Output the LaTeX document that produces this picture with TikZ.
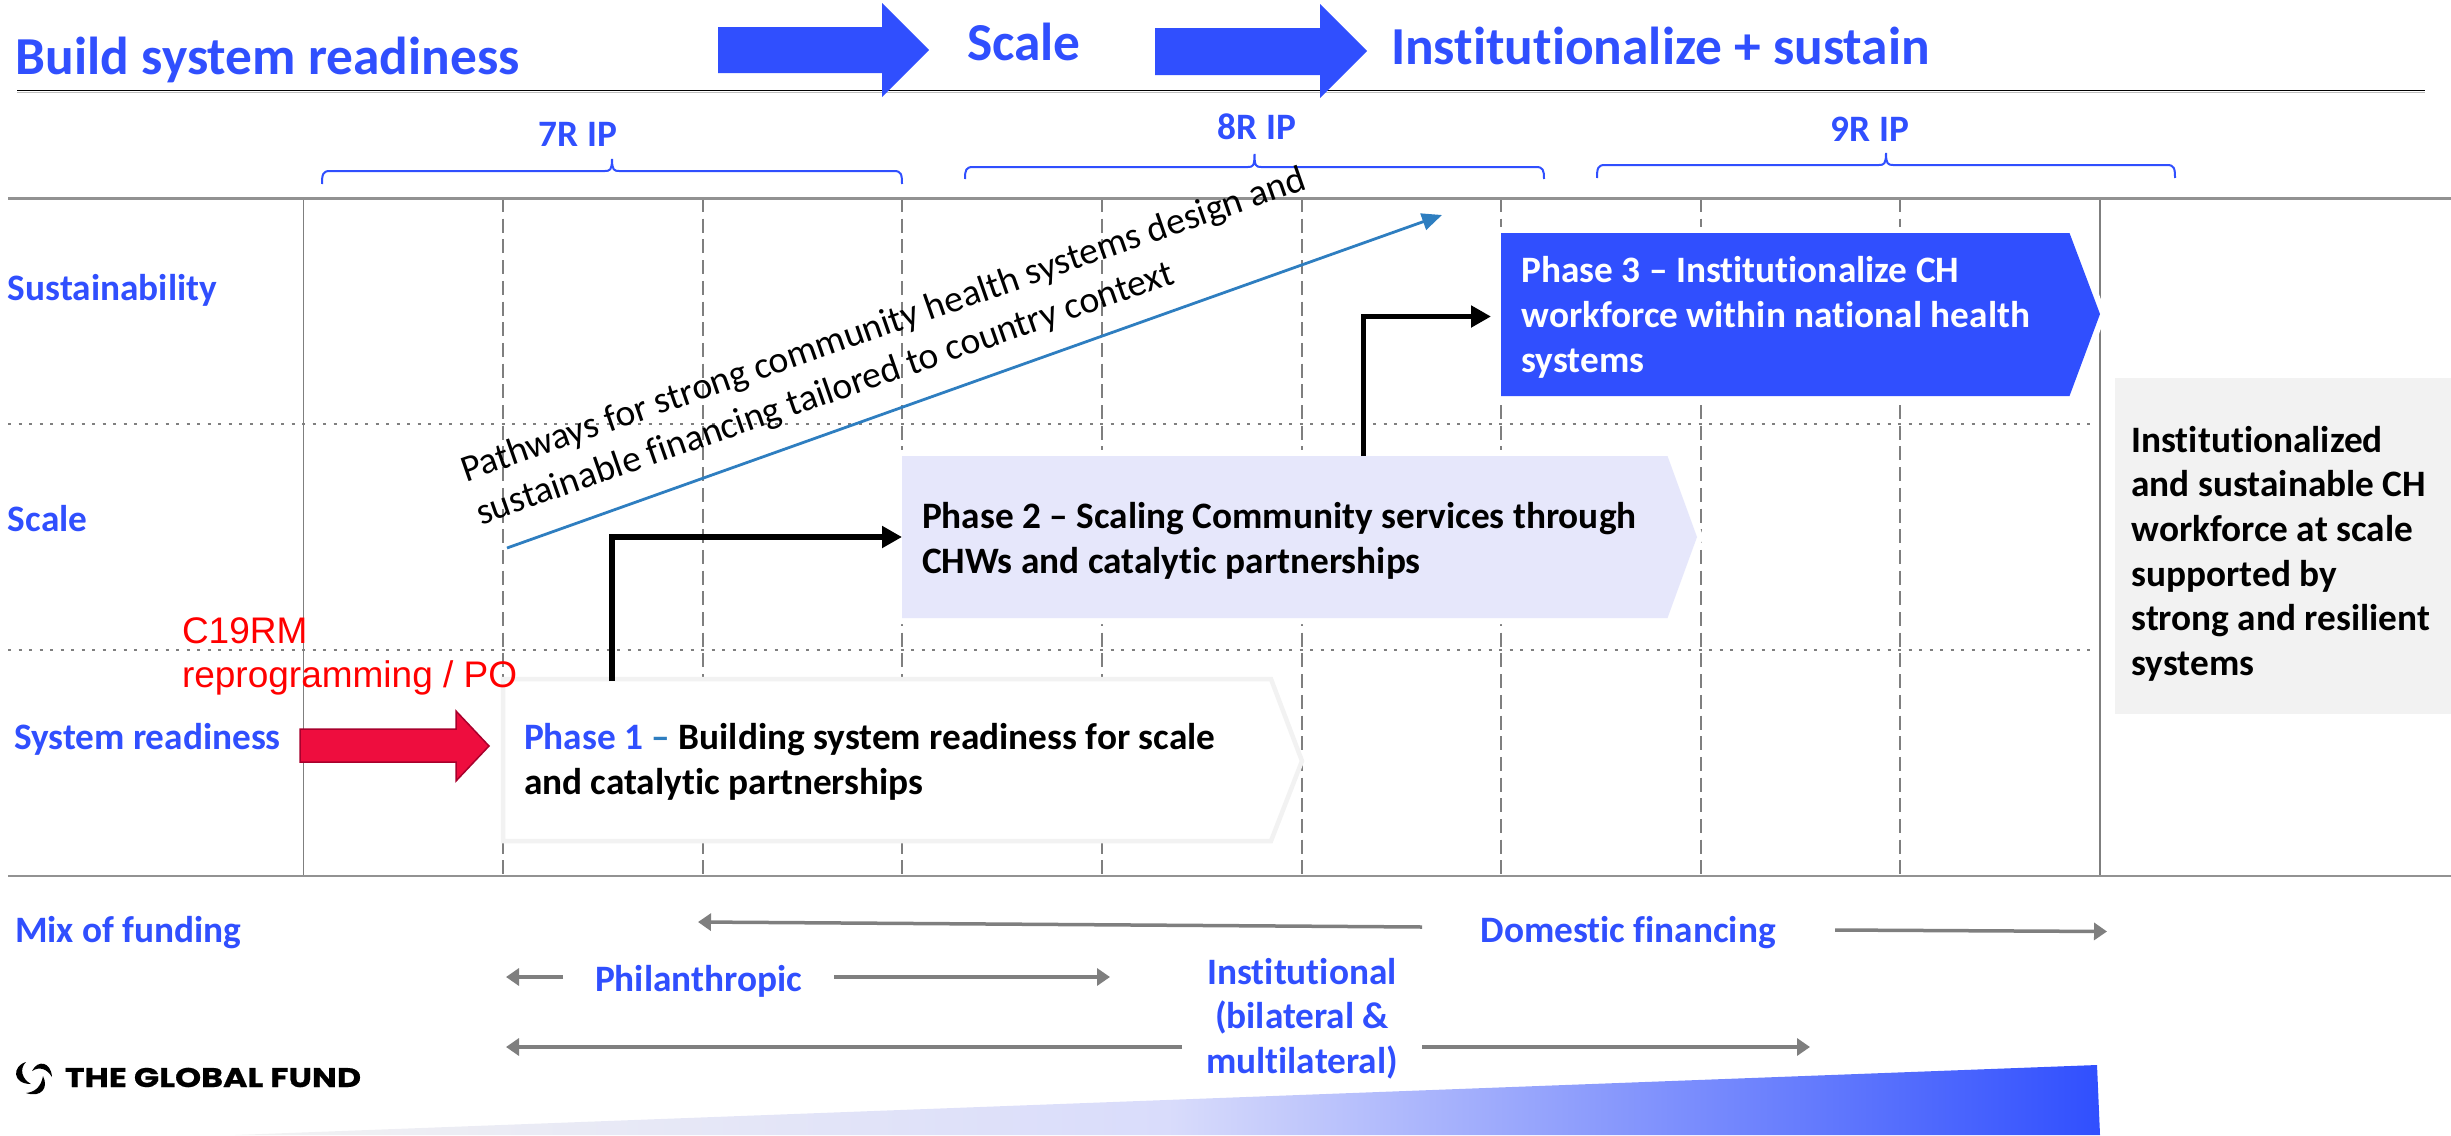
\documentclass[tikz,border=0pt]{standalone}
\usepackage{fontspec}
\setmainfont{Carlito}[Ligatures=CommonOff]
\newfontfamily\redfont{Liberation Sans}
\newfontfamily\logofont{Poppins}[BoldFeatures={FakeBold=0.6}]
\usetikzlibrary{arrows.meta,calc}
\definecolor{gfblue}{HTML}{304FFE}
\definecolor{rulegray}{HTML}{7F7F7F}
\definecolor{palegray}{HTML}{F2F2F2}
\definecolor{paleblue}{HTML}{E6E7FB}
\definecolor{midblue}{HTML}{D9DCFB}
\definecolor{linkblue}{HTML}{2E7EC0}
\definecolor{alarm}{HTML}{EE0D3E}
\definecolor{alarmdark}{HTML}{A8002C}
\tikzset{
  x=1pt,y=-1pt,
  inner sep=0pt,outer sep=0pt,
  every node/.style={anchor=base west,align=left},
  head/.style={font=\bfseries\fontsize{53.4}{60}\selectfont,text=gfblue},
  lab/.style={font=\bfseries\fontsize{37.3}{44.7}\selectfont,text=gfblue},
  body/.style={font=\bfseries\fontsize{37.3}{44.7}\selectfont,text=black},
  whitebody/.style={font=\bfseries\fontsize{37.3}{44.7}\selectfont,text=white},
  frame/.style={anchor=center,draw=none,fill=none},
  bigarrow/.style={fill=gfblue,draw=none},
  bracepath/.style={draw=gfblue,line width=2pt},
  halo/.style={draw=white,line width=12pt},
  tablerule/.style={draw=rulegray!85,line width=2.5pt},
  solidline/.style={draw=rulegray,line width=1.8pt},
  dashline/.style={draw=rulegray,line width=2pt,dash pattern=on 14pt off 6.7pt},
  dotline/.style={draw=rulegray,line width=2pt,dash pattern=on 3pt off 7.5pt},
  step arrow/.style={draw=black,line width=5.5pt,-{Triangle[length=20pt,width=21pt]}},
  fund arrow/.style={draw=rulegray,line width=3.5pt,-{Triangle[length=13pt,width=17pt]}},
  link arrow/.style={draw=linkblue,line width=2.8pt,-{Triangle[length=20pt,width=17pt]}},
}
\begin{document}
\begin{tikzpicture}
\useasboundingbox (0,0) rectangle (2451,1135);
% gradient wedge
\shade[left color=palegray,right color=gfblue,middle color=midblue] (235,1135) -- (2097,1065) -- (2100,1135) -- cycle;
% table lines
\foreach \x in {503.1,702.7,902.3,1101.9,1301.5,1501.1,1700.7,1900.3} \draw[dashline] (\x,198) -- (\x,876);
\foreach \y in {424,650} \draw[dotline] (8,\y) -- (2091,\y);
\foreach \x in {303.5,2100} \draw[solidline] (\x,198) -- (\x,876);
\draw[tablerule] (8,198.5) -- (2451,198.5);
\draw[tablerule] (8,876) -- (2451,876);
% top rule
\draw[draw=rulegray!50,line width=1.5pt] (17,92.5) -- (2425,92.5);
\draw[draw=black,line width=1.5pt] (17,90.5) -- (2425,90.5);
% header arrows
\fill[bigarrow] (718,27) -- (882,27) -- (882,3) -- (929,50) -- (882,97) -- (882,73) -- (718,73) -- cycle;
\fill[bigarrow] (1155,28) -- (1320,28) -- (1320,4) -- (1367,51) -- (1320,98) -- (1320,75) -- (1155,75) -- cycle;
\node[head] (h1) at (16,74) {Build system readiness};
\node[head] (h2) at (967,60) {Scale};
\node[head] (h3) at (1391,64) {Institutionalize + sustain};
% braces
\draw[bracepath] (322,184) .. controls (322,174) and (323,171) .. (330,171) -- (605,171) .. controls (610,171) and (612,170) .. (612,159) .. controls (612,170) and (614,171) .. (619,171) -- (894,171) .. controls (901,171) and (902,174) .. (902,184);
\draw[bracepath] (965,179) .. controls (965,170) and (966,167) .. (973,167) -- (1248,167) .. controls (1253,167) and (1254.5,166) .. (1254.5,154) .. controls (1254.5,166) and (1256,167) .. (1261,167) -- (1536,167) .. controls (1543,167) and (1544,170) .. (1544,179);
\draw[bracepath] (1597,178) .. controls (1597,168) and (1598,165) .. (1605,165) -- (1879,165) .. controls (1884,165) and (1886,164) .. (1886,153) .. controls (1886,164) and (1888,165) .. (1893,165) -- (2167,165) .. controls (2174,165) and (2175,168) .. (2175,178);
\node[lab,anchor=base] (r7) at (578,146.5) {7R IP};
\node[lab,anchor=base] (r8) at (1257,139.5) {8R IP};
\node[lab,anchor=base] (r9) at (1870,141.5) {9R IP};
% grey box
\fill[palegray] (2115,378) rectangle (2451,714);
\node[body] (res) at (2131.5,675.5) {Institutionalized\\and sustainable CH\\workforce at scale\\supported by\\strong and resilient\\systems};
% phase boxes
\filldraw[draw=palegray,line width=4.5pt,fill=white] (503,679) -- (1271,679) -- (1302,761) -- (1271,841) -- (503,841) -- cycle;
\draw[halo] (902,456) -- (1667.5,456) -- (1697,537) -- (1667.5,618) -- (902,618) -- cycle;
\fill[paleblue] (902,456) -- (1667.5,456) -- (1697,537) -- (1667.5,618) -- (902,618) -- cycle;
\draw[halo] (1501,233) -- (2069.5,233) -- (2100,314) -- (2069.5,396) -- (1501,396) -- cycle;
\fill[gfblue] (1501,233) -- (2069.5,233) -- (2100,314) -- (2069.5,396) -- (1501,396) -- cycle;
\node[frame,minimum width=768pt,minimum height=162pt] (p1) at (887,760) {};
\node[frame,minimum width=765.5pt,minimum height=162pt] (p2) at (1284.75,537) {};
\node[frame,minimum width=568.5pt,minimum height=163pt] (p3) at (1785.25,314.5) {};
\node[body] (t1) at (524,794) {\textcolor{gfblue}{Phase 1} \textcolor{linkblue}{--} Building system readiness for scale\\and catalytic partnerships};
\node[body] (t2) at (922,573) {Phase 2 -- Scaling Community services through\\CHWs and catalytic partnerships};
\node[whitebody] (t3) at (1521.5,372) {Phase 3 -- Institutionalize CH\\workforce within national health\\systems};
% side labels
\node[lab] (s1) at (8,300.5) {Sustainability};
\node[lab] (s2) at (8,531.5) {Scale};
\node[lab] (s3) at (14,749) {System readiness};
\node[lab] (s4) at (15,942.5) {Mix of funding};
% red
\node[font=\redfont\fontsize{37}{44}\selectfont,text=red] (c19) at (182,687) {C19RM\\reprogramming / PO};
\filldraw[fill=alarm,draw=alarmdark,line width=1.5pt] (300,729) -- (456,729) -- (456,711) -- (489,746) -- (456,781) -- (456,762) -- (300,762) -- cycle;
% black connectors
\coordinate (a1) at (612,681);
\coordinate (a2) at (1363.7,456);
\draw[step arrow] (a1) |- (p2.west);
\draw[step arrow] (a2) |- ($(p3.west)+(-10,2)$);
% blue line
\coordinate (l1) at (507,548);
\coordinate (l2) at (1442,215);
\draw[link arrow] (l1) -- (l2);
\node[font=\fontsize{37.6}{45.5}\selectfont,text=black,rotate=19.2] (path) at (481,525) {Pathways for strong community health systems design and\\sustainable financing tailored to country context};
% funding
\node[lab] (dom) at (1480.6,942) {Domestic financing};
\node[lab] (phi) at (595,991) {Philanthropic};
\node[lab,align=center,anchor=base] (ins) at (1302,1073.5) {Institutional\\(bilateral \&\\multilateral)};
\coordinate (d1) at (1422,927); \coordinate (d2) at (698,922);
\coordinate (d3) at (1835,930); \coordinate (d4) at (2107,931.5);
\coordinate (f1) at (563,977); \coordinate (f2) at (506,977);
\coordinate (f3) at (834,977); \coordinate (f4) at (1110,977);
\coordinate (i1) at (1182,1047); \coordinate (i2) at (506,1047);
\coordinate (i3) at (1422,1047); \coordinate (i4) at (1810,1047);
\foreach \a/\b in {d1/d2,d3/d4,f1/f2,f3/f4,i1/i2,i3/i4} \draw[fund arrow] (\a) -- (\b);
% logo
\fill[black] (26,1062) .. controls (12,1066) and (12,1084) .. (31,1084) .. controls (22,1079) and (19,1069) .. (26,1062) -- cycle;
\fill[black] (32,1071) .. controls (38,1059) and (51,1062) .. (52,1077) .. controls (47,1069) and (40,1066) .. (32,1071) -- cycle;
\fill[black] (43,1076) .. controls (49,1088) and (41,1098) .. (26,1093) .. controls (35,1092) and (41,1087) .. (43,1076) -- cycle;
\node[font=\logofont\bfseries\fontsize{27}{30}\selectfont,text=black] (logo) at (65,1087) {\scalebox{1.23}[1]{THE GLOBAL FUND}};
\end{tikzpicture}
\end{document}
